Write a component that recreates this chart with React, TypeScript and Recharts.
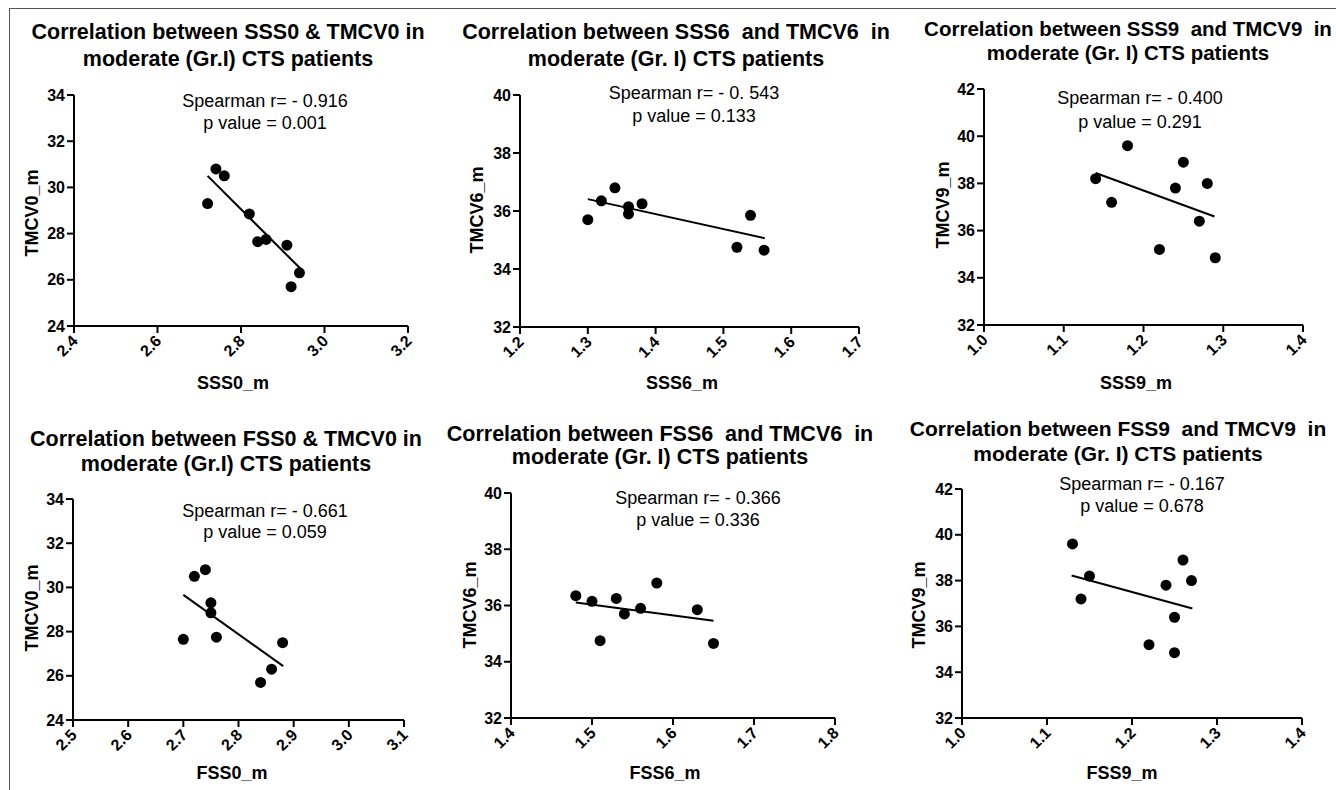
import React from 'react';
import { ScatterChart, Scatter, XAxis, YAxis, ReferenceLine } from 'recharts';

// paired patient values
const tmcv0 = [29.3, 30.8, 30.5, 28.85, 27.65, 27.75, 27.5, 26.3, 25.7];
const sss0 = [2.72, 2.74, 2.76, 2.82, 2.84, 2.86, 2.91, 2.94, 2.92];
const fss0 = [2.75, 2.74, 2.72, 2.75, 2.7, 2.76, 2.88, 2.86, 2.84];

const tmcv6 = [35.7, 36.35, 36.8, 36.15, 35.9, 36.25, 35.85, 34.75, 34.65];
const sss6 = [1.3, 1.32, 1.34, 1.36, 1.36, 1.38, 1.54, 1.52, 1.56];
const fss6 = [1.54, 1.48, 1.58, 1.5, 1.56, 1.53, 1.63, 1.51, 1.65];

const tmcv9 = [38.2, 37.2, 39.6, 35.2, 37.8, 38.9, 36.4, 38.0, 34.85];
const sss9 = [1.14, 1.16, 1.18, 1.22, 1.24, 1.25, 1.27, 1.28, 1.29];
const fss9 = [1.15, 1.14, 1.13, 1.22, 1.24, 1.26, 1.25, 1.27, 1.25];

// regression line end points (x pair, y pair)
const fitSss0 = { x: [2.72, 2.947], y: [30.5, 26.4] };
const fitSss6 = { x: [1.3, 1.561], y: [36.41, 35.06] };
const fitSss9 = { x: [1.14, 1.289], y: [38.44, 36.6] };
const fitFss0 = { x: [2.7, 2.881], y: [29.66, 26.44] };
const fitFss6 = { x: [1.48, 1.65], y: [36.11, 35.46] };
const fitFss9 = { x: [1.129, 1.271], y: [38.22, 36.78] };

const ticksTmcv0 = [24, 26, 28, 30, 32, 34];
const ticksTmcv6 = [32, 34, 36, 38, 40];
const ticksTmcv9 = [32, 34, 36, 38, 40, 42];
const ticksSss0 = [2.4, 2.6, 2.8, 3.0, 3.2];
const ticksSss6 = [1.2, 1.3, 1.4, 1.5, 1.6, 1.7];
const ticksX9 = [1.0, 1.1, 1.2, 1.3, 1.4];
const ticksFss0 = [2.5, 2.6, 2.7, 2.8, 2.9, 3.0, 3.1];
const ticksFss6 = [1.4, 1.5, 1.6, 1.7, 1.8];

const FONT = '"Liberation Sans", Arial, Helvetica, sans-serif';

const pair = (xs: number[], ys: number[]) => xs.map((x, i) => ({ x, y: ys[i] }));

const panels = [
  {
    title: ['Correlation between SSS0 & TMCV0 in', 'moderate (Gr.I) CTS patients'],
    note: ['Spearman r= - 0.916', 'p value = 0.001'],
    xLabel: 'SSS0_m', yLabel: 'TMCV0_m',
    points: pair(sss0, tmcv0), fit: fitSss0,
    xTicks: ticksSss0, yTicks: ticksTmcv0,
    plot: { left: 74, top: 95, right: 408, bottom: 326 },
    titleSize: 21.5, titlePos: [228, 33, 60], notePos: [265, 101, 123],
    xLabelPos: [233, 383], yLabelPos: [32, 213],
  },
  {
    title: ['Correlation between SSS6  and TMCV6  in', 'moderate (Gr. I) CTS patients'],
    note: ['Spearman r= - 0. 543', 'p value = 0.133'],
    xLabel: 'SSS6_m', yLabel: 'TMCV6_m',
    points: pair(sss6, tmcv6), fit: fitSss6,
    xTicks: ticksSss6, yTicks: ticksTmcv6,
    plot: { left: 520, top: 95, right: 859, bottom: 327 },
    titleSize: 21.5, titlePos: [676, 33, 60], notePos: [694, 93, 116],
    xLabelPos: [682, 383], yLabelPos: [477, 210],
  },
  {
    title: ['Correlation between SSS9  and TMCV9  in', 'moderate (Gr. I) CTS patients'],
    note: ['Spearman r= - 0.400', 'p value = 0.291'],
    xLabel: 'SSS9_m', yLabel: 'TMCV9_m',
    points: pair(sss9, tmcv9), fit: fitSss9,
    xTicks: ticksX9, yTicks: ticksTmcv9,
    plot: { left: 984, top: 89, right: 1303, bottom: 325 },
    titleSize: 20.5, titlePos: [1128, 29, 53], notePos: [1140, 98, 122],
    xLabelPos: [1136, 383], yLabelPos: [943, 205],
  },
  {
    title: ['Correlation between FSS0 & TMCV0 in', 'moderate (Gr.I) CTS patients'],
    note: ['Spearman r= - 0.661', 'p value = 0.059'],
    xLabel: 'FSS0_m', yLabel: 'TMCV0_m',
    points: pair(fss0, tmcv0), fit: fitFss0,
    xTicks: ticksFss0, yTicks: ticksTmcv0,
    plot: { left: 73, top: 499, right: 404, bottom: 720 },
    titleSize: 21.5, titlePos: [226, 440, 465], notePos: [265, 511, 532],
    xLabelPos: [232, 773], yLabelPos: [32, 608],
  },
  {
    title: ['Correlation between FSS6  and TMCV6  in', 'moderate (Gr. I) CTS patients'],
    note: ['Spearman r= - 0.366', 'p value = 0.336'],
    xLabel: 'FSS6_m', yLabel: 'TMCV6_m',
    points: pair(fss6, tmcv6), fit: fitFss6,
    xTicks: ticksFss6, yTicks: ticksTmcv6,
    plot: { left: 511, top: 493, right: 835, bottom: 718 },
    titleSize: 21.5, titlePos: [660, 435, 458], notePos: [698, 498, 520],
    xLabelPos: [665, 773], yLabelPos: [470, 605],
  },
  {
    title: ['Correlation between FSS9  and TMCV9  in', 'moderate (Gr. I) CTS patients'],
    note: ['Spearman r= - 0.167', 'p value = 0.678'],
    xLabel: 'FSS9_m', yLabel: 'TMCV9_m',
    points: pair(fss9, tmcv9), fit: fitFss9,
    xTicks: ticksX9, yTicks: ticksTmcv9,
    plot: { left: 962, top: 489, right: 1302, bottom: 718 },
    titleSize: 21, titlePos: [1118, 428, 453], notePos: [1142, 484, 506],
    xLabelPos: [1122, 773], yLabelPos: [919, 605],
  },
];

const XTick = (props: any) => {
  const { x, y, payload } = props;
  const px = x + 1;
  const py = y + 3;
  return (
    <text
      x={px}
      y={py}
      transform={`rotate(-45 ${px} ${py})`}
      textAnchor="end"
      dominantBaseline="central"
      fontSize={16}
      fontWeight={700}
      fill="#000"
    >
      {Number(payload.value).toFixed(1)}
    </text>
  );
};

const Dot = (props: any) => <circle cx={props.cx} cy={props.cy} r={5.5} fill="#000" />;

function Text({ x, y, size, bold, rotate, children }: any) {
  return (
    <div
      style={{
        position: 'absolute',
        left: x,
        top: y,
        transform: `translate(-50%, -50%)${rotate ? ' rotate(-90deg)' : ''}`,
        fontSize: size,
        fontWeight: bold ? 700 : 400,
        lineHeight: 1,
        whiteSpace: 'pre',
        color: '#000',
      }}
    >
      {children}
    </div>
  );
}

function Panel({ p }: any) {
  const { plot, fit, xTicks, yTicks } = p;
  const width = plot.right - plot.left + 90;
  const height = plot.bottom - plot.top + 60;
  const axisStyle = { stroke: '#000', strokeWidth: 2 };
  return (
    <>
      <div style={{ position: 'absolute', left: plot.left - 70, top: plot.top - 10 }}>
        <ScatterChart width={width} height={height} margin={{ top: 10, right: 20, bottom: 10, left: 10 }}>
          <XAxis
            type="number"
            dataKey="x"
            domain={[xTicks[0], xTicks[xTicks.length - 1]]}
            ticks={xTicks}
            interval={0}
            height={40}
            tickSize={7}
            axisLine={axisStyle}
            tickLine={axisStyle}
            tick={<XTick />}
          />
          <YAxis
            type="number"
            dataKey="y"
            domain={[yTicks[0], yTicks[yTicks.length - 1]]}
            ticks={yTicks}
            interval={0}
            width={60}
            tickSize={7}
            axisLine={axisStyle}
            tickLine={axisStyle}
            tick={{ fontSize: 16, fontWeight: 700, fill: '#000' }}
          />
          <ReferenceLine
            segment={[
              { x: fit.x[0], y: fit.y[0] },
              { x: fit.x[1], y: fit.y[1] },
            ]}
            stroke="#000"
            strokeWidth={2}
            ifOverflow="visible"
          />
          <Scatter data={p.points} shape={Dot} isAnimationActive={false} />
        </ScatterChart>
      </div>
      <Text x={p.titlePos[0]} y={p.titlePos[1]} size={p.titleSize} bold>{p.title[0]}</Text>
      <Text x={p.titlePos[0]} y={p.titlePos[2]} size={p.titleSize} bold>{p.title[1]}</Text>
      <Text x={p.notePos[0]} y={p.notePos[1]} size={18}>{p.note[0]}</Text>
      <Text x={p.notePos[0]} y={p.notePos[2]} size={18}>{p.note[1]}</Text>
      <Text x={p.xLabelPos[0]} y={p.xLabelPos[1]} size={18} bold>{p.xLabel}</Text>
      <Text x={p.yLabelPos[0]} y={p.yLabelPos[1]} size={18} bold rotate>{p.yLabel}</Text>
    </>
  );
}

export default function App() {
  return (
    <div
      style={{
        position: 'absolute',
        left: 0,
        top: 0,
        width: 1336,
        height: 790,
        background: '#fff',
        fontFamily: FONT,
        overflow: 'hidden',
      }}
    >
      <div style={{ position: 'absolute', left: 9, top: 8, right: 0, bottom: 0, borderTop: '1px solid #555', borderLeft: '1px solid #555' }} />
      {panels.map((p, i) => (
        <Panel key={i} p={p} />
      ))}
    </div>
  );
}
